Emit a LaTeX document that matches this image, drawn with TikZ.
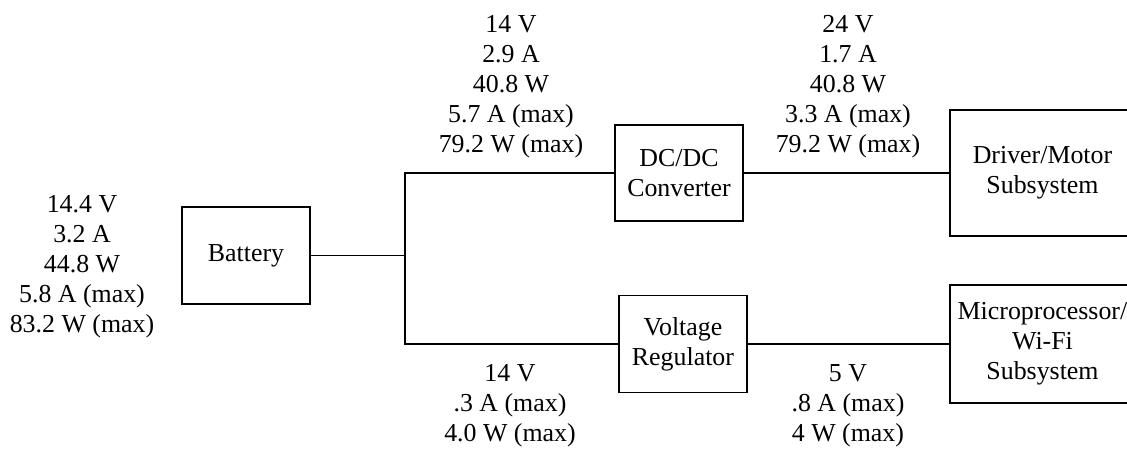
\documentclass[tikz,border=0pt]{standalone}
\usepackage{fontspec}
\setmainfont{Liberation Serif}
\usepackage{tikz}
\usetikzlibrary{positioning}

\begin{document}
\begin{tikzpicture}[
	    x=0.025cm, y=-0.025cm,
	    every node/.style={font=\fontsize{18.4}{21.3}\selectfont, inner sep=0pt},
	    blockbox/.style={rectangle, draw, line width=0.8pt, align=center, minimum width=3.2cm, minimum height=2.425cm},
	    vals/.style={align=center},
	    wire/.style={line width=0.8pt}
	]
		\useasboundingbox (0,0) rectangle (1127,451);

		\node[blockbox] (bat) at (246,255.5) {Battery};
		\node[blockbox, minimum height=2.4cm] (dc) at (679,173) {DC/DC\\Converter};
		\node[blockbox] (vr) at (683,344) {Voltage\\Regulator};
		\node[blockbox, minimum width=4.625cm, minimum height=3.15cm] (drv) at (1042.5,173) {Driver/Motor\\Subsystem};
		\node[blockbox, minimum width=4.625cm, minimum height=2.95cm] (mp) at (1042.5,344) {Microprocessor/\\Wi-Fi\\Subsystem};

		\coordinate (jn) at (405,255.5);

		\draw[wire] (bat.east) -- (jn);
		\draw[wire] (dc.west) -| (jn) |- (vr.west);
		\draw[wire] (dc.east) -- (drv.west);
		\draw[wire] (vr.east) -- (mp.west);

		\node[vals] (lbat) at (82,267) {14.4 V\\3.2 A\\44.8 W\\5.8 A (max)\\83.2 W (max)};
		\node[vals] (ldcin) at (511,87) {14 V\\2.9 A\\40.8 W\\5.7 A (max)\\79.2 W (max)};
		\node[vals] (ldcout) at (848,87) {24 V\\1.7 A\\40.8 W\\3.3 A (max)\\79.2 W (max)};
		\node[vals] (lvrin) at (510,406) {14 V\\.3 A (max)\\4.0 W (max)};
		\node[vals] (lvrout) at (848,406) {5 V\\.8 A (max)\\4 W (max)};
	\end{tikzpicture}
\end{document}
